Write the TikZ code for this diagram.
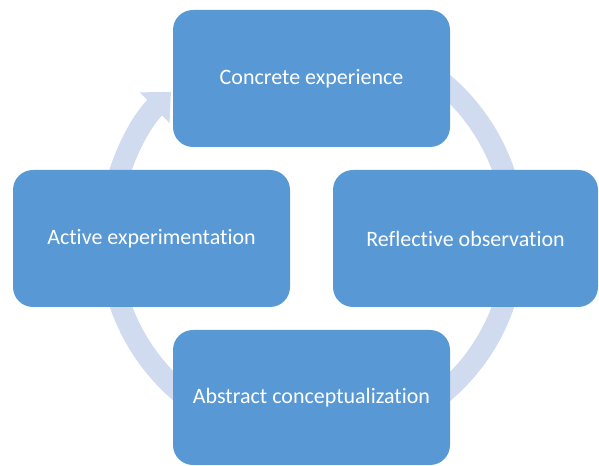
\documentclass[tikz,border=0pt]{standalone}
\usepackage{fontspec}
\setmainfont[Ligatures=NoCommon]{Carlito}
\usetikzlibrary{arrows.meta,calc}
\definecolor{boxblue}{RGB}{88,152,212}
\definecolor{ringblue}{RGB}{208,219,240}

\tikzset{
  stage/.style={fill=boxblue, rounded corners=15pt, text=white, minimum width=207.75pt,
    minimum height=102.75pt, font=\fontsize{16.5}{19}\selectfont},
  ring/.style={ringblue, line width=16pt, -{Triangle[width=31pt,length=17pt]}}
}

\begin{document}
\begin{tikzpicture}[x=0.75pt,y=0.75pt]
\useasboundingbox (0,0) rectangle (599,466);
% ring behind the stages
\coordinate (mid) at (312,228);
\draw[ring] ($(mid)+(80:203)$) arc[start angle=80, end angle=-226, radius=152.25pt];
% the four stages
\node[stage] (ce) at (311.5,387.5) {Concrete experience};
\node[stage] (ae) at (151.5,227.5) {Active experimentation};
\node[stage, minimum width=198.75pt] (ro) at (465.5,227.5) {Reflective observation};
\node[stage, minimum height=101.25pt] (ac) at (311.5,68.5) {Abstract conceptualization};
\end{tikzpicture}
\end{document}
